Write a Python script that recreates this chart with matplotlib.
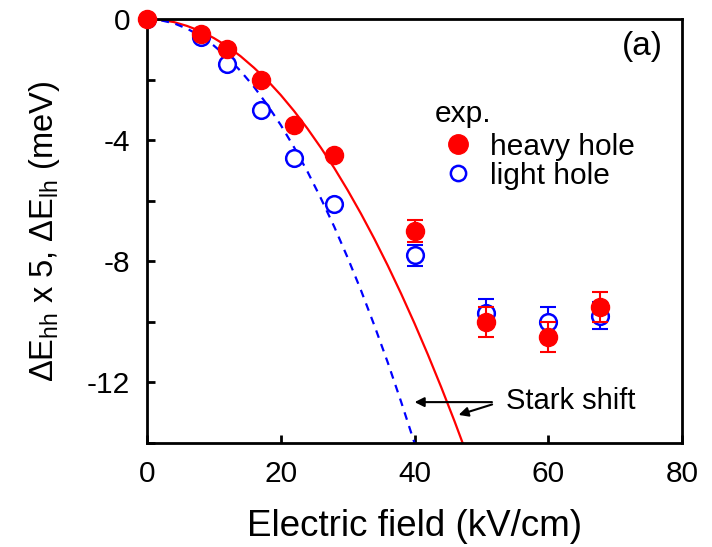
import matplotlib
matplotlib.use("Agg")
import matplotlib.pyplot as plt
from matplotlib.lines import Line2D

plt.rcParams['font.family'] = ['Liberation Sans', 'DejaVu Sans']
plt.rcParams['mathtext.fontset'] = 'custom'
plt.rcParams['mathtext.rm'] = 'Liberation Sans'
plt.rcParams['mathtext.it'] = 'Liberation Sans'

# experimental points
field = [0, 8, 12, 17, 22, 28, 40, 50.7, 60, 67.8]
hh = [0, -0.5, -1.0, -2.0, -3.5, -4.5, -7.0, -10.0, -10.5, -9.5]
lh = [0, -0.6, -1.5, -3.0, -4.6, -6.1, -7.8, -9.7, -10.0, -9.8]
# error bars only on the last four points
err_field = [40, 50.7, 60, 67.8]
hh_err = [0.35, 0.5, 0.5, 0.5]
lh_err = [0.35, 0.45, 0.5, 0.45]

# Stark shift curves
stark_hh_x = [0, 2, 4, 6, 8, 10, 12, 14, 16, 18, 20, 22, 24, 26, 28, 30, 32, 34,
              36, 38, 40, 42, 44, 46, 47.2]
stark_hh_y = [0, -0.03, -0.10, -0.23, -0.40, -0.63, -0.90, -1.23, -1.61, -2.03,
              -2.51, -3.04, -3.62, -4.25, -4.92, -5.65, -6.43, -7.26, -8.14, -9.07,
              -10.05, -11.08, -12.16, -13.29, -14.0]
stark_lh_x = [0, 2, 4, 6, 8, 10, 12, 14, 16, 18, 20, 22, 24, 26, 28, 30, 32, 34,
              36, 38, 40]
stark_lh_y = [0, -0.04, -0.14, -0.32, -0.56, -0.88, -1.26, -1.72, -2.24, -2.84,
              -3.50, -4.24, -5.04, -5.92, -6.86, -7.88, -8.96, -10.12, -11.34,
              -12.64, -14.0]

fig = plt.figure(figsize=(7.12, 5.47), dpi=100)
ax = fig.add_axes([147 / 712, 104 / 547, 535 / 712, 424 / 547])

ax.plot(stark_hh_x, stark_hh_y, color='red', lw=1.6, zorder=2)
ax.plot(stark_lh_x, stark_lh_y, color='blue', lw=1.6, ls=(0, (3.5, 3.0)), zorder=2)

ax.errorbar(err_field, lh[6:], yerr=lh_err, fmt='none', ecolor='blue',
            elinewidth=1.5, capsize=5.5, capthick=1.5, zorder=3)
ax.plot(field, lh, ls='none', marker='o', ms=12, mfc='white', mec='blue', mew=1.8,
        zorder=3)
ax.errorbar(err_field, hh[6:], yerr=hh_err, fmt='none', ecolor='red',
            elinewidth=1.5, capsize=5.5, capthick=1.5, zorder=4)
ax.plot(field, hh, ls='none', marker='o', ms=13, mfc='red', mec='red', zorder=5,
        clip_on=False)

ax.set_xlim(0, 80)
ax.set_ylim(-14, 0)
ax.set_xticks([0, 20, 40, 60, 80])
ax.set_yticks([0, -2, -4, -6, -8, -10, -12, -14])
ax.set_yticklabels(['0', '', '-4', '', '-8', '', '-12', ''])
ax.tick_params(direction='in', length=6, width=2, labelsize=21.5)
ax.tick_params(axis='x', pad=12)
ax.tick_params(axis='y', pad=12)
for s in ax.spines.values():
    s.set_linewidth(2)

ax.set_xlabel('Electric field (kV/cm)', fontsize=26.5, labelpad=15)
ax.set_ylabel(r'$\Delta$E$_{\rm hh}$ x 5, $\Delta$E$_{\rm lh}$ (meV)', fontsize=23.5,
              labelpad=18)

ax.text(0.965, 0.935, '(a)', transform=ax.transAxes, fontsize=24, ha='right', va='center')

handles = [Line2D([], [], ls='none', marker='o', ms=14, mfc='red', mec='red'),
           Line2D([], [], ls='none', marker='o', ms=11, mfc='white', mec='blue', mew=1.8)]
leg = ax.legend(handles, ['heavy hole', 'light hole'], title='exp.', frameon=False,
                fontsize=21.5, title_fontsize=21.5, loc='upper left',
                bbox_to_anchor=(0.538, 0.808), handlelength=1.55, handletextpad=0.3,
                labelspacing=0.04, borderpad=0, borderaxespad=0)
leg._legend_box.align = 'left'
leg._legend_box.sep = 3

ax.annotate('', xy=(39.6, -12.65), xytext=(52, -12.65),
            arrowprops=dict(arrowstyle='-|>', color='black', lw=1.5, mutation_scale=14))
ax.annotate('', xy=(46.2, -13.1), xytext=(52, -12.7),
            arrowprops=dict(arrowstyle='-|>', color='black', lw=1.5, mutation_scale=14))
ax.text(53.7, -12.6, 'Stark shift', fontsize=21, va='center', ha='left')

fig.savefig('out.png', dpi=100)
